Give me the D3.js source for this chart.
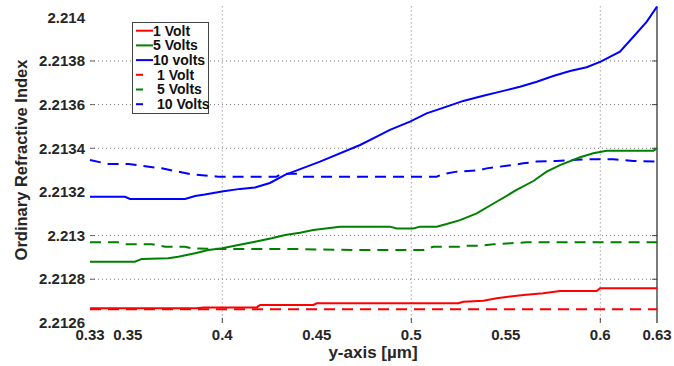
<!DOCTYPE html>
<html>
<head>
<meta charset="utf-8">
<script src="https://cdn.jsdelivr.net/npm/d3@7"></script>
<style>
  body { margin: 0; background: #fff; }
  svg text { font-family: "Liberation Sans", Arial, sans-serif; font-weight: bold; }
</style>
</head>
<body>
<svg id="chart"></svg>
<script>
// Series data: [x (um), refractive index]
const blueSolid = [
  [0.33, 2.213178], [0.3485, 2.213178], [0.3512, 2.213168], [0.3803, 2.213168],
  [0.3856, 2.213181], [0.3908, 2.213188], [0.3998, 2.213202], [0.4094, 2.213214],
  [0.4173, 2.21322], [0.4252, 2.213241], [0.4332, 2.213278], [0.4517, 2.213339],
  [0.4729, 2.213415], [0.4817, 2.213453], [0.4887, 2.213484], [0.4993, 2.213522],
  [0.5081, 2.21356], [0.5187, 2.213591], [0.5275, 2.213617], [0.5381, 2.213641],
  [0.5487, 2.213663], [0.5575, 2.213682], [0.5664, 2.213705], [0.5751, 2.213731],
  [0.584, 2.213754], [0.5928, 2.213771], [0.6002, 2.213797], [0.6104, 2.213843],
  [0.6175, 2.213911], [0.6246, 2.21398], [0.63, 2.214049]
];
const blueDashed = [
  [0.33, 2.213346], [0.3397, 2.213328], [0.3503, 2.213328], [0.3574, 2.21332],
  [0.368, 2.213308], [0.3767, 2.213293], [0.3837, 2.213281], [0.3979, 2.21327],
  [0.4287, 2.21327], [0.4315, 2.213283], [0.4395, 2.213283], [0.4417, 2.21327],
  [0.5134, 2.21327], [0.5169, 2.213282], [0.524, 2.213293], [0.5363, 2.2133],
  [0.5399, 2.213308], [0.5505, 2.21332], [0.5593, 2.213331], [0.5663, 2.213339],
  [0.5769, 2.213342], [0.5928, 2.21335], [0.6069, 2.21335], [0.6175, 2.213342],
  [0.63, 2.213339]
];
const greenSolid = [
  [0.33, 2.21288], [0.3538, 2.21288], [0.3574, 2.212893], [0.3714, 2.212896],
  [0.3767, 2.212903], [0.3856, 2.212919], [0.3926, 2.212934], [0.4, 2.212942],
  [0.4085, 2.212957], [0.4173, 2.212972], [0.4261, 2.212988], [0.4332, 2.213003],
  [0.4411, 2.213013], [0.4481, 2.213026], [0.4623, 2.213041], [0.4887, 2.213041],
  [0.4923, 2.213033], [0.5011, 2.213033], [0.5046, 2.213041], [0.5134, 2.213041],
  [0.5187, 2.213053], [0.5258, 2.213071], [0.5346, 2.213102], [0.5451, 2.213155],
  [0.5557, 2.213209], [0.5646, 2.21325], [0.5716, 2.213293], [0.5787, 2.213323],
  [0.5893, 2.213359], [0.5963, 2.213377], [0.6034, 2.213389], [0.6281, 2.213389],
  [0.63, 2.2134]
];
const greenDashed = [
  [0.33, 2.212969], [0.345, 2.212969], [0.3486, 2.21296], [0.3627, 2.21296],
  [0.3698, 2.212949], [0.3803, 2.212949], [0.3838, 2.212942], [0.398, 2.212939],
  [0.4332, 2.212939], [0.4693, 2.212934], [0.5064, 2.212934], [0.5117, 2.212949],
  [0.5258, 2.212949], [0.5293, 2.212954], [0.5363, 2.212954], [0.5434, 2.21296],
  [0.561, 2.212969], [0.63, 2.212969]
];
const redSolid = [
  [0.33, 2.212667], [0.3865, 2.212667], [0.39, 2.212671], [0.4182, 2.212671],
  [0.42, 2.212682], [0.4482, 2.212682], [0.4499, 2.21269], [0.5249, 2.21269],
  [0.5275, 2.212697], [0.5381, 2.212702], [0.5452, 2.212713], [0.5593, 2.212728],
  [0.5698, 2.212736], [0.5787, 2.212746], [0.5981, 2.212746], [0.5999, 2.212759],
  [0.63, 2.212759]
];
const redDashed = [
  [0.33, 2.212662], [0.63, 2.212662]
];

const xTicks = [0.33, 0.35, 0.4, 0.45, 0.5, 0.55, 0.6, 0.63];
const yTicks = [2.2126, 2.2128, 2.213, 2.2132, 2.2134, 2.2136, 2.2138, 2.214];
const xGrid = [0.4, 0.5, 0.6];
const yGrid = [2.2128, 2.213, 2.2134, 2.2136, 2.2138];
const legendLabels = ["1 Volt", "5 Volts", "10 volts", "1 Volt", "5 Volts", "10 Volts"];

const width = 674;
const height = 366;

const svg = d3.select("#chart").attr("width", width).attr("height", height);

// Scales
const x = d3.scaleLinear().domain([0.33, 0.63]).range([90, 657]);
const y = d3.scaleLinear().domain([2.2126, 2.21405]).range([322.9, 6.4]);

// Grid lines
svg.append("g")
  .selectAll("line")
  .data(xGrid)
  .enter()
  .append("line")
  .attr("x1", (d) => x(d))
  .attr("x2", (d) => x(d))
  .attr("y1", y.range()[1])
  .attr("y2", y.range()[0])
  .attr("stroke", "#777")
  .attr("stroke-dasharray", "1,3");

svg.append("g")
  .selectAll("line")
  .data(yGrid)
  .enter()
  .append("line")
  .attr("x1", x.range()[0])
  .attr("x2", x.range()[1])
  .attr("y1", (d) => y(d))
  .attr("y2", (d) => y(d))
  .attr("stroke", "#777")
  .attr("stroke-dasharray", "1,3");

// Tick marks
svg.append("g")
  .selectAll("line")
  .data(yGrid)
  .enter()
  .append("line")
  .attr("x1", x.range()[0])
  .attr("x2", x.range()[0] + 5)
  .attr("y1", (d) => y(d))
  .attr("y2", (d) => y(d))
  .attr("stroke", "#666");

svg.append("g")
  .selectAll("line")
  .data(yGrid)
  .enter()
  .append("line")
  .attr("x1", x.range()[1] - 5)
  .attr("x2", x.range()[1])
  .attr("y1", (d) => y(d))
  .attr("y2", (d) => y(d))
  .attr("stroke", "#444");

svg.append("g")
  .selectAll("line")
  .data(xGrid)
  .enter()
  .append("line")
  .attr("x1", (d) => x(d))
  .attr("x2", (d) => x(d))
  .attr("y1", y.range()[0] - 5)
  .attr("y2", y.range()[0])
  .attr("stroke", "#444");

// Right border
svg.append("line")
  .attr("x1", x.range()[1])
  .attr("x2", x.range()[1])
  .attr("y1", y.range()[1])
  .attr("y2", y.range()[0])
  .attr("stroke", "#222")
  .attr("stroke-width", 1.2);

// Tick labels
svg.append("g")
  .selectAll("text")
  .data(yTicks)
  .enter()
  .append("text")
  .attr("x", 85)
  .attr("y", (d) => y(d))
  .attr("dy", "0.35em")
  .attr("text-anchor", "end")
  .attr("font-size", 15)
  .attr("fill", "#262626")
  .text((d) => d);

svg.append("g")
  .selectAll("text")
  .data(xTicks)
  .enter()
  .append("text")
  .attr("x", (d) => x(d))
  .attr("y", 340)
  .attr("text-anchor", "middle")
  .attr("font-size", 15)
  .attr("fill", "#262626")
  .text((d) => d);

// Axis titles
svg.append("text")
  .attr("x", 373)
  .attr("y", 358)
  .attr("text-anchor", "middle")
  .attr("font-size", 17)
  .attr("fill", "#262626")
  .text("y-axis [\u00b5m]");

svg.append("text")
  .attr("transform", "translate(27,160) rotate(-90)")
  .attr("text-anchor", "middle")
  .attr("font-size", 16.5)
  .attr("fill", "#262626")
  .text("Ordinary Refractive Index");

// Lines
const line = d3.line().x((d) => x(d[0])).y((d) => y(d[1]));
const series = [
  { data: redDashed, color: "#ff0000", dashed: true },
  { data: greenDashed, color: "#008000", dashed: true },
  { data: blueDashed, color: "#0000ff", dashed: true },
  { data: redSolid, color: "#ff0000", dashed: false },
  { data: greenSolid, color: "#008000", dashed: false },
  { data: blueSolid, color: "#0000ff", dashed: false }
];

svg.append("g")
  .selectAll("path")
  .data(series)
  .enter()
  .append("path")
  .attr("d", (d) => line(d.data))
  .attr("fill", "none")
  .attr("stroke", (d) => d.color)
  .attr("stroke-width", 2)
  .attr("stroke-dasharray", (d) => (d.dashed ? "11,7" : null));

// Legend
const legendColors = ["#ff0000", "#008000", "#0000ff", "#ff0000", "#008000", "#0000ff"];
const legend = svg.append("g");
legend.append("rect")
  .attr("x", 132.5)
  .attr("y", 22.5)
  .attr("width", 76)
  .attr("height", 91)
  .attr("fill", "#fff")
  .attr("stroke", "#444");

legendLabels.forEach((label, i) => {
  const ly = 30.7 + i * 14.7;
  const dashed = i >= 3;
  legend.append("line")
    .attr("x1", 136)
    .attr("x2", dashed ? 143 : 153)
    .attr("y1", ly)
    .attr("y2", ly)
    .attr("stroke", legendColors[i])
    .attr("stroke-width", 2);
  legend.append("text")
    .attr("x", dashed ? 157 : 153)
    .attr("y", ly)
    .attr("dy", "0.35em")
    .attr("font-size", 14)
    .attr("fill", "#111")
    .text(label);
});
</script>
</body>
</html>
